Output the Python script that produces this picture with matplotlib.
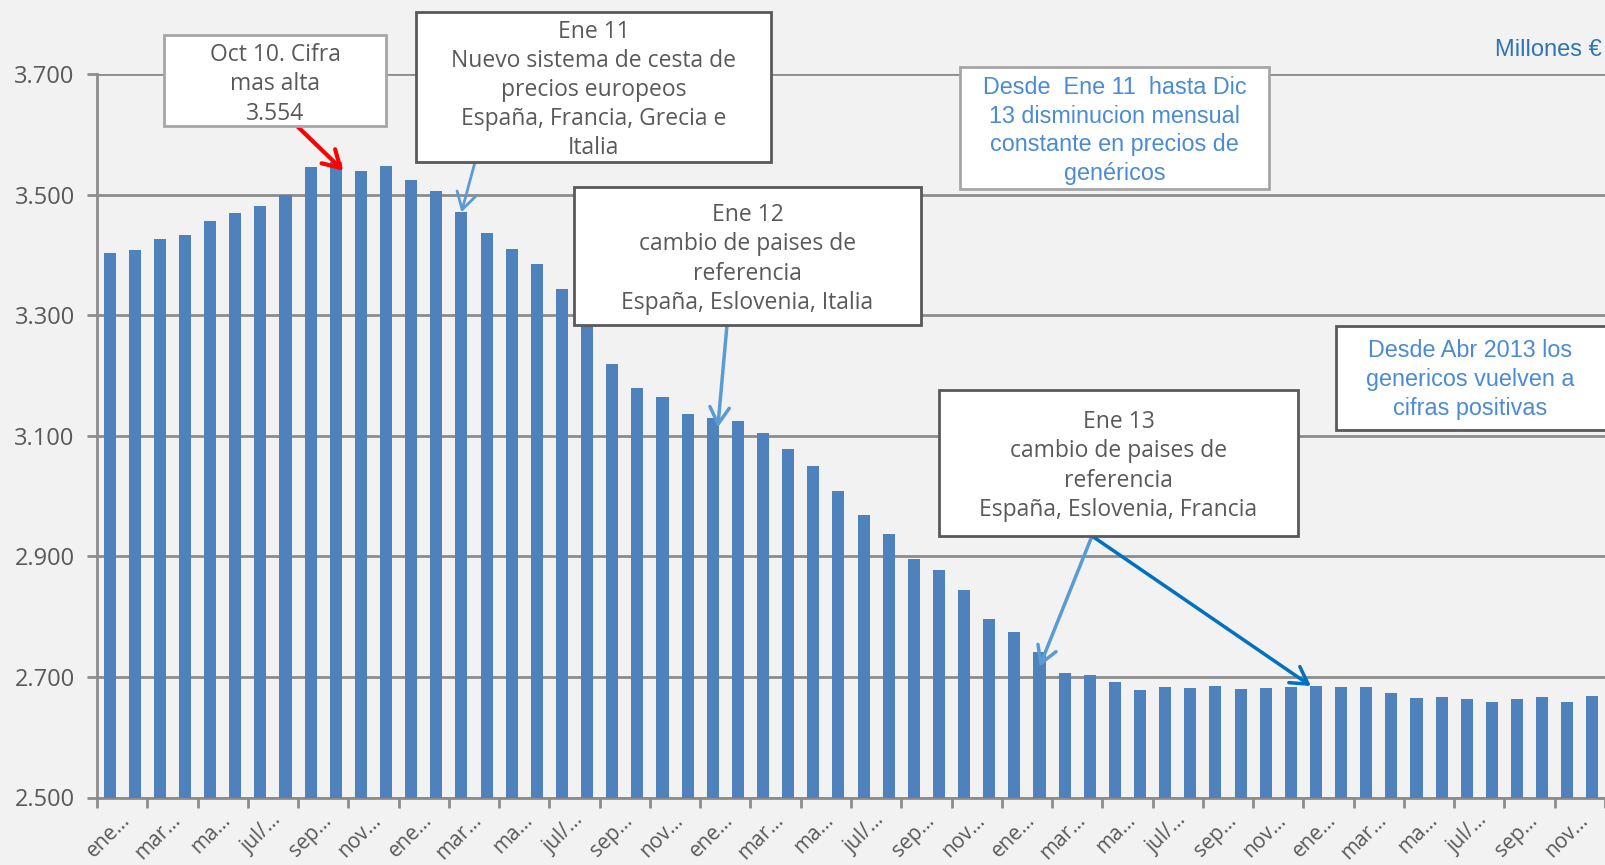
import numpy as np
import matplotlib.pyplot as plt
from matplotlib.patches import Rectangle

# Monthly sales of generics, ene 2010 - dic 2014 (millones de euros)
values = [3403, 3408, 3427, 3434, 3457, 3470, 3481, 3500, 3547, 3554,
          3539, 3548, 3525, 3506, 3471, 3437, 3410, 3386, 3344, 3290,
          3219, 3179, 3165, 3136, 3129, 3125, 3104, 3079, 3050, 3008,
          2968, 2937, 2895, 2877, 2844, 2796, 2774, 2742, 2706, 2704,
          2692, 2678, 2683, 2681, 2685, 2680, 2681, 2683, 2685, 2683,
          2684, 2673, 2665, 2666, 2664, 2658, 2664, 2666, 2659, 2668]
tick_labels = ['ene…', 'mar…', 'ma…', 'jul/…', 'sep…', 'nov…'] * 5
y_ticks = [2500, 2700, 2900, 3100, 3300, 3500, 3700]

W, H = 1605, 865
GRAY_TXT = '#595959'
BLUE_TXT = '#4a8ad6'
SANS = ['Open Sans', 'DejaVu Sans']
BLUE_FONT = ['Liberation Sans', 'DejaVu Sans']


def fx(px):
    return px / W


def fy(py):
    # pixel row measured from the top -> figure fraction
    return 1 - py / H


def text_box(fig, x0, y0, x1, y1, text, edge, color, family, size, spacing,
             tx=None, ty=None):
    """Draw a white box in figure pixels with centred multi-line text."""
    rect = Rectangle((fx(x0), fy(y1)), fx(x1 - x0), (y1 - y0) / H,
                     transform=fig.transFigure, facecolor='white',
                     edgecolor=edge, lw=2, zorder=5)
    fig.add_artist(rect)
    tx = (x0 + x1) / 2 if tx is None else tx
    ty = (y0 + y1) / 2 if ty is None else ty
    fig.text(fx(tx), fy(ty), text, ha='center', va='center', color=color,
             family=family, fontsize=size, linespacing=spacing, zorder=6)


fig = plt.figure(figsize=(W / 100, H / 100), dpi=100, facecolor='#f2f2f2')
ax = fig.add_axes([fx(97), fy(797.5), 1 - fx(97), (797.5 - 74.3) / H])
ax.set_facecolor('none')

x = np.arange(len(values))
ax.bar(x, values, width=0.48, color='#4f81bd', zorder=3)

ax.set_xlim(-0.5, len(values) - 0.5)
ax.set_ylim(y_ticks[0], y_ticks[-1])
ax.set_yticks(y_ticks)
ax.set_yticklabels(['{:,}'.format(v).replace(',', '.') for v in y_ticks],
                   family=SANS, fontsize=17, color=GRAY_TXT)
ax.yaxis.grid(True, color='#8c8c8c', lw=2)
ax.set_axisbelow(True)

# tick marks between every second month, labels on the first month of each pair
# (label anchors nudged right so the rotated text ends just under its bar)
ax.set_xticks(np.arange(-0.5, len(values), 2))
ax.set_xticklabels([])
ax.set_xticks(x[::2] + 0.4, minor=True)
ax.set_xticklabels(tick_labels, minor=True, rotation=45, ha='right', va='top',
                   rotation_mode='anchor', family=SANS, fontsize=15, color=GRAY_TXT)
ax.tick_params(axis='x', which='major', length=7, width=2, color='#8c8c8c')
ax.tick_params(axis='x', which='minor', length=0, pad=9)
ax.tick_params(axis='y', length=7, width=2, color='#8c8c8c', pad=9)

for side in ['top', 'right']:
    ax.spines[side].set_visible(False)
for side in ['left', 'bottom']:
    ax.spines[side].set_color('#8c8c8c')
    ax.spines[side].set_linewidth(2)

# arrows from the note boxes to the bars
arrows = [
    ((9.3, values[9] - 14), (297, 126), '#ff0000', 3),
    ((14, values[14]), (475, 162), '#5b9bd5', 2),
    ((24.2, values[24] - 15), (727, 325), '#5b9bd5', 2.5),
    ((37, values[37] - 25), (1092, 536), '#5b9bd5', 2.5),
    ((47.8, values[48]), (1092, 536), '#0070c0', 2.5),
]
for tip, tail, col, lw in arrows:
    ax.annotate('', xy=tip, xycoords='data', xytext=(fx(tail[0]), fy(tail[1])),
                textcoords='figure fraction',
                arrowprops=dict(arrowstyle='->,head_length=0.6,head_width=0.35',
                                color=col, lw=lw, shrinkA=0, shrinkB=0,
                                mutation_scale=20))

text_box(fig, 164, 35, 386, 126, 'Oct 10. Cifra\nmas alta\n3.554',
         '#a6a6a6', GRAY_TXT, SANS, 16.5, 1.28, ty=84.5)
text_box(fig, 416, 12, 771, 162,
         'Ene 11\nNuevo sistema de cesta de\nprecios europeos\n'
         'España, Francia, Grecia e\nItalia', '#595959', GRAY_TXT, SANS, 16.5,
         1.28, ty=90)
text_box(fig, 960, 67, 1269, 189,
         'Desde  Ene 11  hasta Dic\n13 disminucion mensual\n'
         'constante en precios de\ngenéricos', '#a6a6a6', BLUE_TXT, BLUE_FONT,
         16.8, 1.32, ty=130.5)
text_box(fig, 574, 187, 921, 325,
         'Ene 12\ncambio de paises de\nreferencia\nEspaña, Eslovenia, Italia',
         '#595959', GRAY_TXT, SANS, 16.5, 1.28, ty=259)
text_box(fig, 939, 390, 1298, 536,
         'Ene 13\ncambio de paises de\nreferencia\nEspaña, Eslovenia, Francia',
         '#595959', GRAY_TXT, SANS, 16.5, 1.28, ty=466)
text_box(fig, 1336, 326, 1615, 430,
         'Desde Abr 2013 los\ngenericos vuelven a\ncifras positivas',
         '#595959', BLUE_TXT, BLUE_FONT, 16.8, 1.32, tx=1470, ty=379.5)

fig.text(fx(1602), fy(50), 'Millones €', ha='right', va='center',
         color='#2e75b6', family=BLUE_FONT, fontsize=17)

fig.savefig('out.png', dpi=100, facecolor=fig.get_facecolor())
